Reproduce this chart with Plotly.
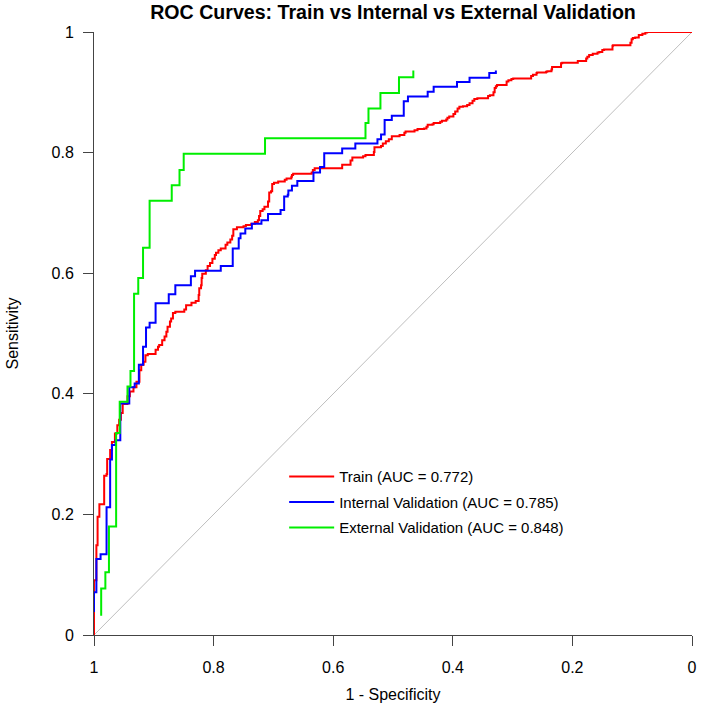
import plotly.graph_objects as go

# ---- data (specificity on x, reversed axis; sensitivity on y) ----
train_spec = [1.000, 0.996, 0.994, 0.991, 0.983, 0.979, 0.978, 0.973, 0.970, 0.965,
              0.961, 0.958, 0.955, 0.952, 0.944, 0.940, 0.934, 0.929, 0.924, 0.921,
              0.917, 0.914, 0.910, 0.897, 0.893, 0.891, 0.886, 0.882, 0.879, 0.877,
              0.873, 0.871, 0.868, 0.864, 0.849, 0.846, 0.837, 0.830, 0.825, 0.824,
              0.821, 0.820, 0.819, 0.813, 0.810, 0.806, 0.802, 0.798, 0.796, 0.792,
              0.788, 0.780, 0.777, 0.772, 0.769, 0.767, 0.761, 0.750, 0.746, 0.737,
              0.731, 0.726, 0.724, 0.722, 0.718, 0.715, 0.709, 0.707, 0.704, 0.702,
              0.699, 0.692, 0.681, 0.678, 0.670, 0.669, 0.667, 0.636, 0.634, 0.631,
              0.585, 0.571, 0.568, 0.550, 0.546, 0.532, 0.531, 0.520, 0.517, 0.512,
              0.507, 0.502, 0.489, 0.481, 0.479, 0.464, 0.459, 0.448, 0.444, 0.442,
              0.434, 0.432, 0.421, 0.418, 0.411, 0.409, 0.406, 0.399, 0.396, 0.392,
              0.389, 0.383, 0.376, 0.372, 0.367, 0.364, 0.359, 0.341, 0.338, 0.332,
              0.330, 0.328, 0.326, 0.310, 0.307, 0.302, 0.299, 0.269, 0.266, 0.260,
              0.259, 0.244, 0.242, 0.235, 0.234, 0.219, 0.217, 0.191, 0.177, 0.175,
              0.172, 0.166, 0.158, 0.155, 0.150, 0.147, 0.133, 0.132, 0.103, 0.101,
              0.099, 0.095, 0.089, 0.083, 0.078, 0.075, 0.000]
train_sens = [0.000, 0.091, 0.149, 0.196, 0.217, 0.264, 0.267, 0.292, 0.307, 0.320,
              0.334, 0.348, 0.357, 0.368, 0.383, 0.396, 0.404, 0.411, 0.420, 0.439,
              0.448, 0.453, 0.464, 0.466, 0.473, 0.478, 0.481, 0.489, 0.495, 0.503,
              0.511, 0.520, 0.525, 0.534, 0.536, 0.540, 0.547, 0.551, 0.554, 0.564,
              0.575, 0.580, 0.592, 0.599, 0.605, 0.612, 0.617, 0.624, 0.630, 0.634,
              0.638, 0.641, 0.647, 0.651, 0.656, 0.662, 0.673, 0.676, 0.678, 0.680,
              0.682, 0.685, 0.688, 0.695, 0.703, 0.706, 0.710, 0.719, 0.734, 0.736,
              0.748, 0.750, 0.752, 0.755, 0.757, 0.760, 0.763, 0.765, 0.767, 0.771,
              0.774, 0.780, 0.787, 0.792, 0.794, 0.796, 0.801, 0.809, 0.811, 0.815,
              0.819, 0.822, 0.827, 0.829, 0.833, 0.835, 0.837, 0.839, 0.840, 0.843,
              0.846, 0.847, 0.849, 0.851, 0.853, 0.855, 0.858, 0.860, 0.864, 0.868,
              0.873, 0.876, 0.877, 0.879, 0.882, 0.886, 0.889, 0.890, 0.894, 0.895,
              0.900, 0.907, 0.910, 0.912, 0.918, 0.920, 0.922, 0.923, 0.927, 0.929,
              0.932, 0.933, 0.934, 0.935, 0.938, 0.942, 0.948, 0.949, 0.952, 0.956,
              0.959, 0.962, 0.964, 0.966, 0.967, 0.970, 0.971, 0.977, 0.978, 0.982,
              0.988, 0.990, 0.991, 0.995, 0.997, 0.999, 1.000]

internal_spec = [1.000, 0.996, 0.989, 0.979, 0.973, 0.970, 0.964, 0.956, 0.941, 0.932,
                 0.925, 0.918, 0.913, 0.907, 0.897, 0.875, 0.864, 0.838, 0.831, 0.788,
                 0.768, 0.758, 0.755, 0.747, 0.736, 0.720, 0.709, 0.688, 0.682, 0.676,
                 0.675, 0.669, 0.660, 0.633, 0.622, 0.615, 0.585, 0.563, 0.526, 0.520,
                 0.514, 0.502, 0.482, 0.475, 0.442, 0.432, 0.393, 0.372, 0.339, 0.328,
                 0.328]
internal_sens = [0.038, 0.071, 0.126, 0.134, 0.212, 0.291, 0.315, 0.323, 0.384, 0.411,
                 0.417, 0.448, 0.478, 0.510, 0.518, 0.550, 0.565, 0.580, 0.595, 0.604,
                 0.612, 0.641, 0.658, 0.666, 0.674, 0.682, 0.688, 0.698, 0.705, 0.727,
                 0.730, 0.737, 0.745, 0.753, 0.767, 0.776, 0.799, 0.807, 0.815, 0.822,
                 0.830, 0.854, 0.861, 0.885, 0.893, 0.901, 0.909, 0.917, 0.924, 0.932,
                 0.936]

external_spec = [0.988, 0.981, 0.975, 0.963, 0.957, 0.944, 0.939, 0.933, 0.926, 0.918,
                 0.907, 0.870, 0.857, 0.850, 0.714, 0.546, 0.541, 0.521, 0.490, 0.466,
                 0.466]
external_sens = [0.032, 0.077, 0.104, 0.180, 0.335, 0.387, 0.412, 0.438, 0.566, 0.592,
                 0.642, 0.720, 0.746, 0.771, 0.798, 0.824, 0.849, 0.873, 0.899, 0.925,
                 0.936]

names = ["Train (AUC = 0.772)", "Internal Validation (AUC = 0.785)",
         "External Validation (AUC = 0.848)"]
colors = ["#FF0000", "#0000FF", "#00EE00"]
tick_vals = [1, 0.8, 0.6, 0.4, 0.2, 0]
tick_text = ["1", "0.8", "0.6", "0.4", "0.2", "0"]

FONT = "Liberation Sans, Arial, sans-serif"

fig = go.Figure()
fig.add_trace(go.Scatter(x=[1, 0], y=[0, 1], mode="lines",
                         line=dict(color="#BEBEBE", width=1),
                         showlegend=False, hoverinfo="skip"))
series = [(train_spec, train_sens), (internal_spec, internal_sens),
          (external_spec, external_sens)]
for i, (xs, ys) in enumerate(series):
    fig.add_trace(go.Scatter(x=xs, y=ys, mode="lines", name=names[i],
                             line=dict(color=colors[i], width=2, shape="vh"),
                             legendgroup=str(i)))

axis_common = dict(showgrid=False, zeroline=False, showline=True,
                   linecolor="#444444", linewidth=1, ticks="outside",
                   ticklen=10, tickcolor="#444444", tickwidth=1,
                   tickvals=tick_vals, ticktext=tick_text,
                   tickfont=dict(family=FONT, size=16, color="#000000"))

fig.update_layout(
    width=709, height=713,
    margin=dict(l=94, r=12, t=32, b=78, pad=0),
    paper_bgcolor="white", plot_bgcolor="white",
    title=dict(text="<b>ROC Curves: Train vs Internal vs External Validation</b>",
               x=0.5, xref="paper", xanchor="center",
               y=1 - 12 / 713, yref="container", yanchor="middle",
               font=dict(family=FONT, size=19.6, color="#000000")),
    xaxis=dict(range=[1, 0], ticklabelstandoff=8,
               title=dict(text="1 - Specificity",
                          font=dict(family=FONT, size=16, color="#000000"),
                          standoff=13),
               **axis_common),
    yaxis=dict(range=[0, 1], ticklabelstandoff=6,
               title=dict(text="Sensitivity",
                          font=dict(family=FONT, size=16, color="#000000"),
                          standoff=28),
               **axis_common),
    legend=dict(x=0.318, y=0.29, xanchor="left", yanchor="top",
                bgcolor="rgba(0,0,0,0)", borderwidth=0,
                tracegroupgap=3, itemwidth=45,
                font=dict(family=FONT, size=15, color="#000000")),
    showlegend=True,
)

fig.write_html("out.html")
